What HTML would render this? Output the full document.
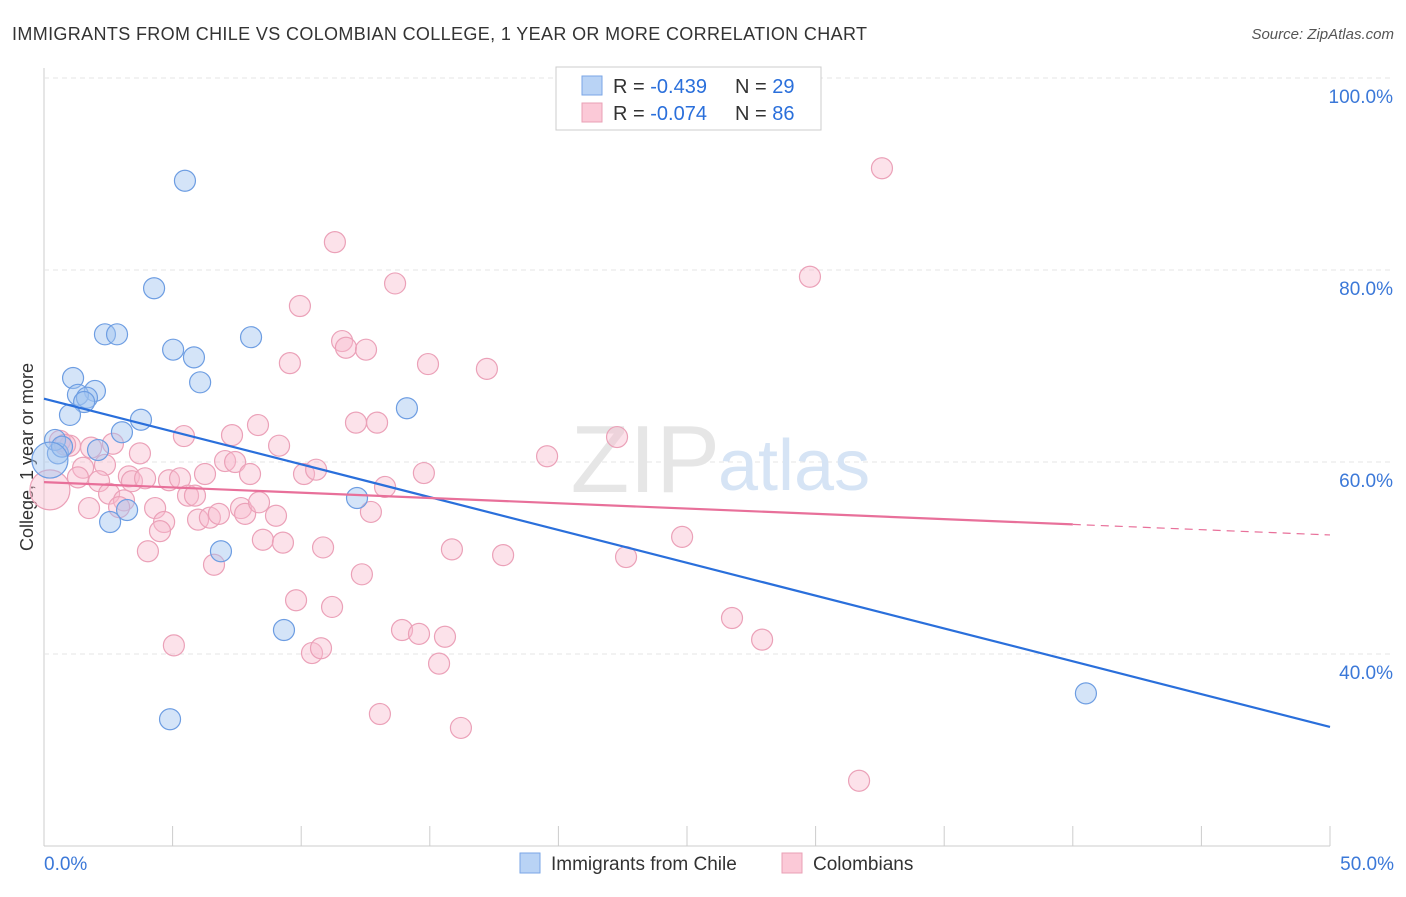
<!DOCTYPE html>
<html><head><meta charset="utf-8"><style>
body{margin:0;background:#fff;font-family:"Liberation Sans",sans-serif}
svg text{font-family:"Liberation Sans",sans-serif}
</style></head><body>
<svg id="c" width="1406" height="892">
<text x="12" y="40" font-size="18" fill="#333" textLength="855">IMMIGRANTS FROM CHILE VS COLOMBIAN COLLEGE, 1 YEAR OR MORE CORRELATION CHART</text>
<text x="1394" y="39" font-size="15" fill="#555" font-style="italic" text-anchor="end">Source: ZipAtlas.com</text>
<text x="33" y="457" font-size="18" fill="#333" text-anchor="middle" transform="rotate(-90 33 457)">College, 1 year or more</text>
<g id="grid"></g>
<text x="720" y="492" font-size="96" fill="#e6e6e6" text-anchor="end" font-family="Liberation Serif">ZIP</text>
<text x="718" y="490" font-size="72" fill="#d6e4f5">atlas</text>
<g id="pts"></g><g id="lines"></g>
<g>
<rect x="556" y="67" width="265" height="63" fill="#fff" stroke="#ccc"/>
<rect x="582" y="76" width="20" height="19" fill="#b9d3f5" stroke="#7aa6e6"/>
<rect x="582" y="103" width="20" height="19" fill="#fbc9d7" stroke="#eaa0b6"/>
<text x="613" y="93" font-size="20" fill="#333">R = <tspan fill="#2a6fdb">-0.439</tspan></text>
<text x="735" y="93" font-size="20" fill="#333">N = <tspan fill="#2a6fdb">29</tspan></text>
<text x="613" y="120" font-size="20" fill="#333">R = <tspan fill="#2a6fdb">-0.074</tspan></text>
<text x="735" y="120" font-size="20" fill="#333">N = <tspan fill="#2a6fdb">86</tspan></text>
</g>
<g>
<rect x="520" y="853" width="20" height="20" fill="#b9d3f5" stroke="#7aa6e6"/>
<text x="551" y="870" font-size="19" fill="#333">Immigrants from Chile</text>
<rect x="782" y="853" width="20" height="20" fill="#fbc9d7" stroke="#eaa0b6"/>
<text x="813" y="870" font-size="19" fill="#333">Colombians</text>
</g>
</svg>
<script>
const yTicks=[40,60,80,100];
const xTickLabels=["0.0%","50.0%"];
const blueX=[5.48,4.28,2.37,2.84,5.02,5.83,8.05,6.07,1.13,1.98,1.32,1.67,1.56,1.01,3.77,3.03,2.10,0.54,0.43,0.70,0.23,14.11,12.17,3.23,2.57,6.88,9.33,4.90,40.51];
const blueY=[89.3,78.1,73.3,73.3,71.7,70.9,73.0,68.3,68.75,67.4,67.0,66.7,66.25,64.9,64.4,63.1,61.25,60.9,62.3,61.6,60.2,65.6,56.25,55.0,53.75,50.7,42.5,33.2,35.9];
const pinkX=[32.58,11.31,13.65,29.78,9.95,9.56,11.59,11.74,12.52,14.93,17.22,8.32,12.13,12.95,5.44,7.31,9.14,22.28,19.56,2.68,1.83,1.01,0.62,0.82,2.37,1.52,1.32,2.14,3.73,4.86,5.29,6.26,7.04,7.43,8.01,10.11,10.58,14.77,13.26,3.30,3.42,3.93,2.53,3.11,5.60,5.87,2.92,1.75,4.32,4.67,4.51,5.99,6.45,6.80,7.66,7.82,8.36,9.02,12.71,4.04,6.61,8.51,9.29,10.85,15.86,17.85,22.63,24.81,12.36,9.80,11.20,5.05,10.42,10.77,13.92,14.58,15.59,15.36,26.75,27.92,13.06,16.21,31.69,0.23];
const pinkY=[90.6,82.9,78.6,79.3,76.25,70.3,72.6,71.9,71.7,70.2,69.7,63.85,64.1,64.1,62.7,62.8,61.7,62.6,60.6,61.9,61.5,61.7,62.2,61.8,59.7,59.4,58.4,58.0,60.9,58.1,58.3,58.75,60.1,60.0,58.75,58.75,59.2,58.85,57.4,58.5,58.0,58.3,56.7,56.0,56.5,56.5,55.3,55.2,55.2,53.75,52.8,54.0,54.2,54.6,55.2,54.6,55.8,54.4,54.8,50.7,49.3,51.9,51.6,51.1,50.9,50.3,50.1,52.2,48.3,45.6,44.9,40.9,40.1,40.6,42.5,42.1,41.8,39.0,43.75,41.5,33.75,32.3,26.8,57.1];
const blueBig=[20];const pinkBig=[83];
const blueTrend=[66.6,32.4];
const pinkTrend=[57.9,52.4];
const pinkSolidEnd=40;
const NS="http://www.w3.org/2000/svg";
const X=v=>44+v*25.72, Y=v=>654-(v-40)*9.6;
function mk(t,a,p){const e=document.createElementNS(NS,t);for(const k in a)e.setAttribute(k,a[k]);p.appendChild(e);return e;}
const g=document.getElementById('grid');
mk('line',{x1:44,y1:68,x2:44,y2:846,stroke:'#ccc'},g);
mk('line',{x1:44,y1:846,x2:1330,y2:846,stroke:'#ccc'},g);
for(let i=0;i<=10;i++){const l=mk('line',{x1:X(i*5),y1:846,x2:X(i*5),y2:826,stroke:'#ccc'},g);

}
yTicks.forEach(t=>{const l=mk('line',{x1:44,y1:Y(t),x2:1394,y2:Y(t),stroke:'#e4e4e4','stroke-dasharray':'5,4'},g);


const tx=mk('text',{x:1393,y:Y(t)+25,'font-size':19,fill:'#3b78d8','text-anchor':'end'},g);tx.textContent=t.toFixed(1)+'%';

});
[[0,'start',44],[1,'end',1394]].forEach(([i,a,x])=>{const tx=mk('text',{x:x,y:870,'font-size':19,fill:'#3b78d8','text-anchor':a},g);tx.textContent=xTickLabels[i];

});
const P=document.getElementById('pts');
pinkX.forEach((x,i)=>{const c=mk('circle',{cx:X(x),cy:Y(pinkY[i]),r:pinkBig.includes(i)?20:10.5,fill:'rgba(248,185,204,0.42)',stroke:'#eba1b8','stroke-width':1.2},P);

});
blueX.forEach((x,i)=>{const c=mk('circle',{cx:X(x),cy:Y(blueY[i]),r:blueBig.includes(i)?18:10.5,fill:'rgba(160,196,240,0.45)',stroke:'#6d9de2','stroke-width':1.2},P);

});
const L=document.getElementById('lines');
let b=mk('line',{x1:X(0),y1:Y(blueTrend[0]),x2:X(50),y2:Y(blueTrend[1]),stroke:'#2a6fdb','stroke-width':2.2},L);


const pm=(pinkTrend[1]-pinkTrend[0])/50;
let p1=mk('line',{x1:X(0),y1:Y(pinkTrend[0]),x2:X(pinkSolidEnd),y2:Y(pinkTrend[0]+pm*pinkSolidEnd),stroke:'#e8709a','stroke-width':2.2},L);


let p2=mk('line',{x1:X(pinkSolidEnd),y1:Y(pinkTrend[0]+pm*pinkSolidEnd),x2:X(50),y2:Y(pinkTrend[1]),stroke:'#e8709a','stroke-width':1.2,'stroke-dasharray':'8,6'},L);


</script>
</body></html>
